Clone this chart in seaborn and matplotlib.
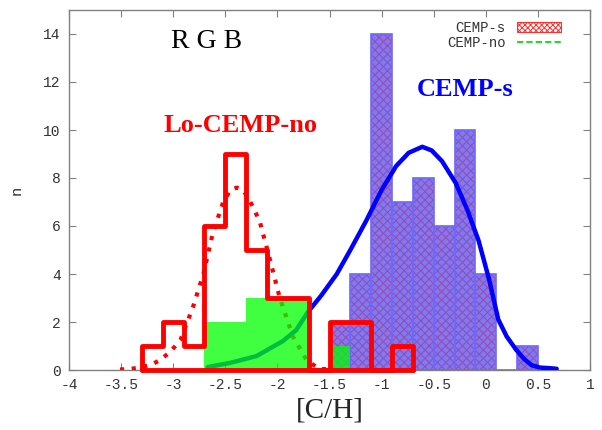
import numpy as np
import matplotlib
matplotlib.use("Agg")
import matplotlib.pyplot as plt
import seaborn as sns
from matplotlib.patches import Patch
from matplotlib.lines import Line2D

# ---------------- data ----------------
# CEMP-s histogram (RGB)
cemps_edges = [-1.5, -1.3, -1.1, -0.9, -0.7, -0.5, -0.3, -0.1, 0.1, 0.3, 0.5]
cemps_counts = [2, 4, 14, 7, 8, 6, 10, 4, 0, 1]

# Lo-CEMP-no histogram (red outline)
locempno_edges = [-3.3, -3.1, -2.9, -2.7, -2.5, -2.3, -2.1, -1.9, -1.7, -1.5, -1.3, -1.1, -0.9, -0.7]
locempno_counts = [1, 2, 1, 6, 9, 5, 3, 3, 0, 2, 2, 0, 1]

# CEMP-no histogram (green)
cempno_edges = [-2.7, -2.5, -2.3, -2.1, -1.9, -1.7, -1.5, -1.3]
cempno_counts = [2, 2, 3, 3, 3, 0, 1]

# CEMP-s fitted curve (blue)
cemps_fit_x = [-2.67, -2.45, -2.2, -1.95, -1.82, -1.71, -1.58, -1.43, -1.3, -1.15,
               -1.0, -0.86, -0.74, -0.61, -0.52, -0.42, -0.29, -0.18, -0.07, 0.03,
               0.12, 0.2, 0.29, 0.37, 0.44, 0.52, 0.6, 0.68]
cemps_fit_y = [0.12, 0.3, 0.58, 1.2, 1.66, 2.4, 3.1, 4.0, 5.0, 6.2,
               7.5, 8.5, 9.05, 9.3, 9.15, 8.7, 7.8, 6.7, 5.4, 3.8,
               2.1, 1.4, 0.85, 0.45, 0.2, 0.1, 0.08, 0.05]

# Lo-CEMP-no fitted curve (red dotted)
locempno_fit_x = [-3.51, -3.4, -3.3, -3.2, -3.13, -3.03, -2.93, -2.81, -2.71, -2.62,
                  -2.52, -2.45, -2.39, -2.33, -2.27, -2.17, -2.07, -1.98, -1.85, -1.72,
                  -1.6, -1.45]
locempno_fit_y = [0.02, 0.05, 0.12, 0.25, 0.4, 0.75, 1.25, 2.63, 4.0, 5.7,
                  7.0, 7.5, 7.6, 7.5, 7.1, 6.2, 4.57, 3.05, 1.38, 0.41,
                  0.05, 0.02]

x_ticks = [-4, -3.5, -3, -2.5, -2, -1.5, -1, -0.5, 0, 0.5, 1]
x_ticklabels = ["-4", "-3.5", "-3", "-2.5", "-2", "-1.5", "-1", "-0.5", "0", "0.5", "1"]
y_ticks = [0, 2, 4, 6, 8, 10, 12, 14]
y_ticklabels = ["0", "2", "4", "6", "8", "10", "12", "14"]


def centers(edges):
    e = np.asarray(edges, dtype=float)
    return (e[:-1] + e[1:]) / 2


# ---------------- figure ----------------
sns.set_style("white")
plt.rcParams["hatch.linewidth"] = 0.7
mono = ["Liberation Mono", "DejaVu Sans Mono"]
serif = ["Liberation Serif", "DejaVu Serif"]

fig = plt.figure(figsize=(6.02, 4.30), dpi=100)
ax = fig.add_axes([69 / 602, 60 / 430, (590 - 69) / 602, (370 - 10) / 430])

# CEMP-s bars: hatched fill layer
sns.histplot(x=centers(cemps_edges), weights=cemps_counts, bins=cemps_edges,
             element="bars", fill=True, color="#7d7af2", alpha=1,
             edgecolor="#9a4aae", hatch="xxxx", linewidth=0, ax=ax, zorder=1)
# CEMP-s bars: edge layer
sns.histplot(x=centers(cemps_edges), weights=cemps_counts, bins=cemps_edges,
             element="bars", fill=False, color="#6a6aff", linewidth=1.2,
             ax=ax, zorder=2)

# CEMP-s fit
sns.lineplot(x=cemps_fit_x, y=cemps_fit_y, color="#0000ff", linewidth=3.2,
             ax=ax, zorder=3, sort=False)

# Lo-CEMP-no fit (dotted)
sns.lineplot(x=locempno_fit_x, y=locempno_fit_y, color="#ff0000", linewidth=3,
             linestyle=(0, (1, 1.8)), ax=ax, zorder=4, sort=False)

# CEMP-no green bars
sns.histplot(x=centers(cempno_edges), weights=cempno_counts, bins=cempno_edges,
             element="bars", fill=True, color="#00ff00", alpha=0.75,
             linewidth=0, ax=ax, zorder=5)

# Lo-CEMP-no red outline (closed at both ends with zero-height end bins)
eps = 1e-4
red_edges = [locempno_edges[0] - eps] + list(locempno_edges) + [locempno_edges[-1] + eps]
red_counts = [0] + list(locempno_counts) + [0]
sns.histplot(x=centers(red_edges), weights=red_counts, bins=red_edges,
             element="step", fill=False, color="#ff0000", linewidth=3.5,
             ax=ax, zorder=6)
ax.lines[-1].set_clip_on(False)
sns.lineplot(x=[locempno_edges[0], locempno_edges[-1]], y=[0, 0], color="#ff0000",
             linewidth=3.5, ax=ax, zorder=6).lines[-1].set_clip_on(False)

# texts
ax.text(-2.68, 13.67, "R G B", fontsize=20, family=serif, color="black",
        ha="center", va="center", zorder=10)
ax.text(-2.35, 10.18, "Lo-CEMP-no", fontsize=19, family=serif, weight="bold",
        color="#ff0000", ha="center", va="center", zorder=10)
ax.text(-0.2, 11.7, "CEMP-s", fontsize=19, family=serif, weight="bold",
        color="#0000ff", ha="center", va="center", zorder=10)

# axes
ax.set_xlim(-4, 1)
ax.set_ylim(0, 15)
ax.set_xticks(x_ticks)
ax.set_xticklabels(x_ticklabels, family=mono, fontsize=10.5, color="#333333")
ax.set_yticks(y_ticks)
ax.set_yticklabels(y_ticklabels, family=mono, fontsize=10.5, color="#333333")
ax.tick_params(direction="in", length=5, width=0.8, color="#808080",
               top=True, right=True, bottom=True, left=True, pad=6)
for s in ax.spines.values():
    s.set_color("#808080")
    s.set_linewidth(1)
    s.set_zorder(0.5)
ax.set_xlabel("[C/H]", family=serif, fontsize=21, labelpad=4)
ax.set_ylabel("n", family=mono, fontsize=11, color="#333333", labelpad=14)

# legend
handles = [Patch(facecolor="white", edgecolor="#ff3030", hatch="xxxxxx", linewidth=0.8),
           Line2D([], [], color="#22dd22", linestyle=(0, (3, 1.5)), linewidth=1.5)]
leg = ax.legend(handles, ["CEMP-s", "CEMP-no"], loc="upper right",
                bbox_to_anchor=(0.955, 0.985), frameon=False, markerfirst=False,
                prop={"family": mono, "size": 10}, handlelength=3.2,
                handleheight=0.7, labelspacing=0.1, borderaxespad=0, handletextpad=0.8)
for t in leg.get_texts():
    t.set_color("#333333")

fig.savefig("out.png", dpi=100)
